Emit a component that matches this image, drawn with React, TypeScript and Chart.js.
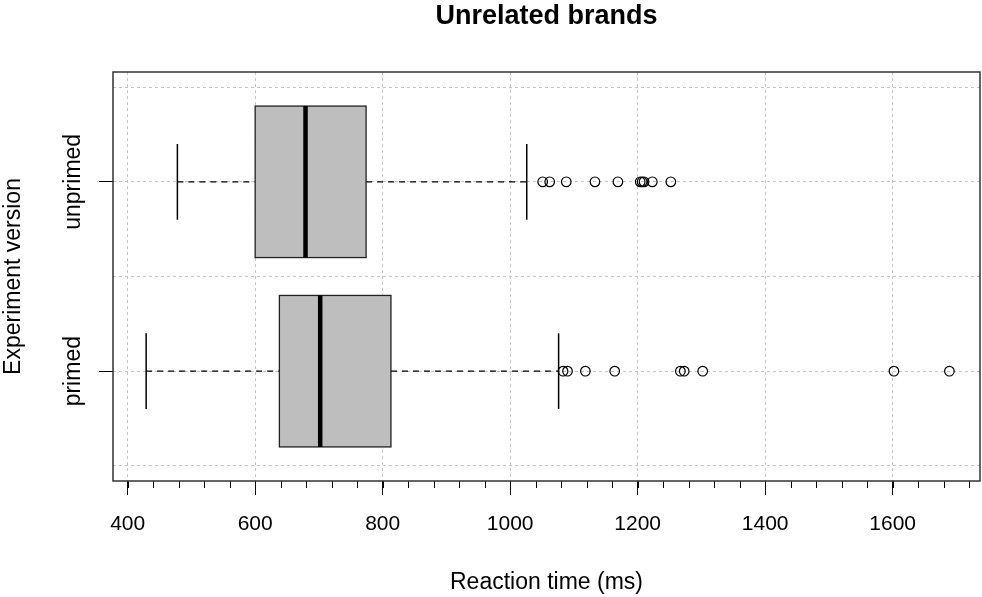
import React, { useEffect, useRef } from 'react';
import { Chart, registerables } from 'chart.js';

Chart.register(...registerables);

// ---- data ----
const CATEGORIES = ['primed', 'unprimed'];
const CATEGORY_POS = [1, 2];
const LOWER_WHISKER = [429, 478];
const Q1 = [638, 600];
const MEDIAN = [702, 679];
const Q3 = [813, 774];
const UPPER_WHISKER = [1076, 1026];
const OUTLIERS_PRIMED = [1083, 1090, 1118, 1164, 1267, 1273, 1302, 1602, 1689];
const OUTLIERS_UNPRIMED = [1051, 1062, 1088, 1133, 1169, 1204, 1207, 1210, 1223, 1252];

// ---- axes ----
const X_TICKS = [400, 600, 800, 1000, 1200, 1400, 1600];
const X_MINOR_TICKS = Array.from({ length: 34 }, (_, i) => 400 + 40 * i);
const Y_GRID = [0.5, 1, 1.5, 2, 2.5];
const X_MIN = 377;
const X_MAX = 1737;
const Y_MIN = 0.42;
const Y_MAX = 2.58;

const FONT = "'Liberation Sans', Arial, sans-serif";
const GRID_COLOR = '#c4c4c4';
const BOX_HALF = 0.4;
const STAPLE_HALF = 0.2;

const boxPlugin = {
  id: 'rboxes',
  beforeDatasetsDraw(chart: any) {
    const { ctx } = chart;
    const xs = chart.scales.x;
    const ys = chart.scales.y;
    const line = (x1: number, y1: number, x2: number, y2: number) => {
      ctx.beginPath();
      ctx.moveTo(x1, y1);
      ctx.lineTo(x2, y2);
      ctx.stroke();
    };
    ctx.save();
    CATEGORIES.forEach((_, i) => {
      const pos = CATEGORY_POS[i];
      const yc = ys.getPixelForValue(pos);
      const yTop = ys.getPixelForValue(pos + BOX_HALF);
      const yBot = ys.getPixelForValue(pos - BOX_HALF);
      const sTop = ys.getPixelForValue(pos + STAPLE_HALF);
      const sBot = ys.getPixelForValue(pos - STAPLE_HALF);
      const xl = xs.getPixelForValue(LOWER_WHISKER[i]);
      const xq1 = xs.getPixelForValue(Q1[i]);
      const xm = xs.getPixelForValue(MEDIAN[i]);
      const xq3 = xs.getPixelForValue(Q3[i]);
      const xu = xs.getPixelForValue(UPPER_WHISKER[i]);
      ctx.strokeStyle = '#000';
      ctx.lineWidth = 1.2;
      ctx.setLineDash([6, 5]);
      line(xl, yc, xq1, yc);
      line(xq3, yc, xu, yc);
      ctx.setLineDash([]);
      ctx.lineWidth = 1.5;
      line(xl, sTop, xl, sBot);
      line(xu, sTop, xu, sBot);
      ctx.fillStyle = '#bebebe';
      ctx.fillRect(xq1, yTop, xq3 - xq1, yBot - yTop);
      ctx.lineWidth = 1.3;
      ctx.strokeStyle = '#222';
      ctx.strokeRect(xq1, yTop, xq3 - xq1, yBot - yTop);
      ctx.strokeStyle = '#000';
      ctx.lineWidth = 4.5;
      ctx.lineCap = 'butt';
      line(xm, yTop, xm, yBot);
    });
    ctx.restore();
  },
  afterDraw(chart: any) {
    const { ctx, chartArea } = chart;
    const xs = chart.scales.x;
    ctx.save();
    ctx.strokeStyle = '#000';
    ctx.lineWidth = 1;
    X_MINOR_TICKS.forEach((v) => {
      const px = Math.round(xs.getPixelForValue(v)) + 0.5;
      ctx.beginPath();
      ctx.moveTo(px, chartArea.bottom);
      ctx.lineTo(px, chartArea.bottom + 7);
      ctx.stroke();
    });
    ctx.strokeStyle = '#333';
    ctx.lineWidth = 1.5;
    ctx.strokeRect(chartArea.left, chartArea.top, chartArea.right - chartArea.left, chartArea.bottom - chartArea.top);
    ctx.restore();
  },
};

const zeroPad = (s: any) => {
  s.paddingLeft = 0;
  s.paddingRight = 0;
  s.paddingTop = 0;
  s.paddingBottom = 0;
};

export default function App() {
  const ref = useRef<HTMLCanvasElement | null>(null);

  useEffect(() => {
    if (!ref.current) return;
    const chart = new Chart(ref.current, {
      type: 'scatter',
      data: {
        datasets: [
          {
            label: CATEGORIES[0],
            data: OUTLIERS_PRIMED.map((v) => ({ x: v, y: CATEGORY_POS[0] })),
            pointStyle: 'circle',
            pointRadius: 4.8,
            backgroundColor: 'rgba(0,0,0,0)',
            borderColor: '#000',
            borderWidth: 1.2,
          },
          {
            label: CATEGORIES[1],
            data: OUTLIERS_UNPRIMED.map((v) => ({ x: v, y: CATEGORY_POS[1] })),
            pointStyle: 'circle',
            pointRadius: 4.8,
            backgroundColor: 'rgba(0,0,0,0)',
            borderColor: '#000',
            borderWidth: 1.2,
          },
        ],
      },
      options: {
        animation: false,
        responsive: false,
        maintainAspectRatio: false,
        devicePixelRatio: 1,
        layout: { autoPadding: false, padding: { left: 0, right: 2, top: 0, bottom: 0 } },
        plugins: {
          legend: { display: false },
          tooltip: { enabled: false },
          title: {
            display: true,
            text: 'Unrelated brands',
            fullSize: false,
            color: '#000',
            font: { family: FONT, size: 27, weight: 'bold', lineHeight: 1.15 },
            padding: { top: 1, bottom: 39.95 },
          },
        },
        scales: {
          x: {
            type: 'linear',
            position: 'bottom',
            min: X_MIN,
            max: X_MAX,
            z: 1,
            afterBuildTicks: (s: any) => {
              s.ticks = X_TICKS.map((v) => ({ value: v }));
            },
            afterFit: (s: any) => {
              s.height = 116;
              zeroPad(s);
            },
            grid: {
              color: GRID_COLOR,
              lineWidth: 1,
              drawTicks: true,
              tickLength: 14,
              tickColor: '#000',
              tickWidth: 1,
            },
            border: { display: false, dash: [3, 3] },
            ticks: {
              color: '#000',
              font: { family: FONT, size: 21 },
              padding: 17,
              maxRotation: 0,
              minRotation: 0,
              autoSkip: false,
              callback: (v: any) => String(v),
            },
            title: {
              display: true,
              text: 'Reaction time (ms)',
              color: '#000',
              font: { family: FONT, size: 23, lineHeight: 1.2 },
              padding: { top: 0, bottom: 1 },
            },
          },
          y: {
            type: 'linear',
            position: 'left',
            min: Y_MIN,
            max: Y_MAX,
            z: 1,
            afterBuildTicks: (s: any) => {
              s.ticks = Y_GRID.map((v) => ({ value: v }));
            },
            afterFit: (s: any) => {
              s.width = 113;
              zeroPad(s);
            },
            grid: {
              color: GRID_COLOR,
              lineWidth: 1,
              drawTicks: true,
              tickLength: 14,
              tickColor: (c: any) => (CATEGORY_POS.includes(c.tick && c.tick.value) ? '#000' : 'rgba(0,0,0,0)'),
              tickWidth: 1,
            },
            border: { display: false, dash: [3, 3] },
            ticks: {
              color: '#000',
              font: { family: FONT, size: 23 },
              minRotation: 90,
              maxRotation: 90,
              crossAlign: 'center',
              padding: -22.5,
              autoSkip: false,
              callback: (v: any) => {
                const i = CATEGORY_POS.indexOf(v);
                return i >= 0 ? CATEGORIES[i] : '';
              },
            },
            title: {
              display: true,
              text: 'Experiment version',
              color: '#000',
              font: { family: FONT, size: 23, lineHeight: 1.2 },
              padding: { top: 0, bottom: 0 },
            },
          },
        },
      },
      plugins: [boxPlugin],
    } as any);
    return () => chart.destroy();
  }, []);

  return (
    <div style={{ position: 'absolute', left: 0, top: 0, width: 982, height: 597, background: '#fff' }}>
      <canvas ref={ref} width={982} height={597} style={{ display: 'block' }} />
    </div>
  );
}
